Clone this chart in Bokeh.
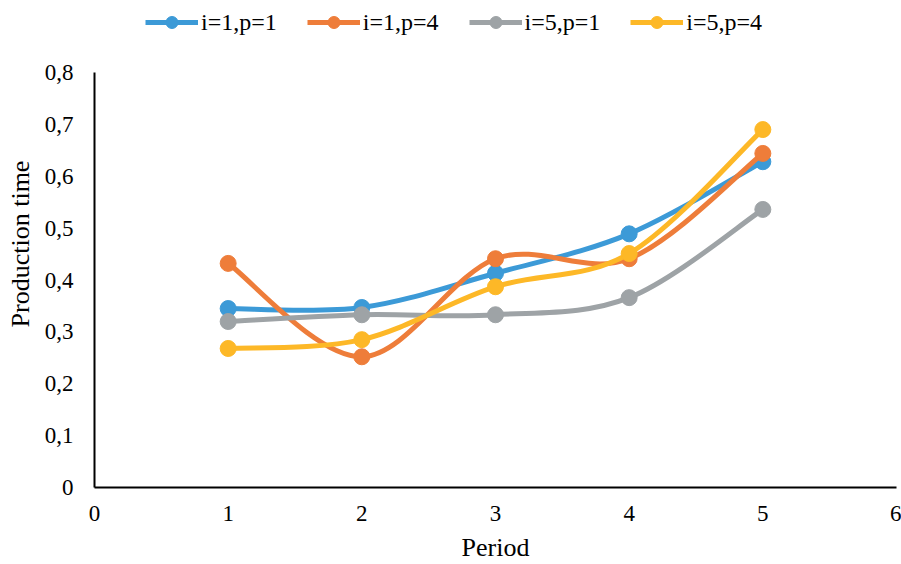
from bokeh.plotting import figure
from bokeh.models import Range1d, FixedTicker, CustomJSTickFormatter, Legend, LegendItem
from bokeh.embed import file_html
from bokeh.resources import INLINE

periods = [1, 2, 3, 4, 5]
s_i1p1 = [0.345, 0.347, 0.413, 0.489, 0.628]
s_i1p4 = [0.432, 0.252, 0.441, 0.441, 0.644]
s_i5p1 = [0.320, 0.333, 0.333, 0.366, 0.536]
s_i5p4 = [0.268, 0.285, 0.387, 0.451, 0.690]
labels = ["i=1,p=1", "i=1,p=4", "i=5,p=1", "i=5,p=4"]
colors = ["#3C9AD7", "#EE7D3A", "#9EA3A6", "#FDB827"]
x_ticks = [0, 1, 2, 3, 4, 5, 6]
y_ticks = [0, 0.1, 0.2, 0.3, 0.4, 0.5, 0.6, 0.7, 0.8]
y_axis_max = 0.8

FONT = "Liberation Serif"

# frame spans the full height above the x axis so the legend (inside the frame) is not clipped;
# the y axis line itself is bounded to 0..0.8
FRAME_H = 487
AXIS_H = 415
y_top = y_axis_max * FRAME_H / AXIS_H

p = figure(width=901, height=564, output_backend="svg", toolbar_location=None,
           x_range=Range1d(0, 6), y_range=Range1d(0, y_top),
           min_border_left=94, min_border_right=5, min_border_top=0, min_border_bottom=77)
p.outline_line_color = None
p.xgrid.visible = False
p.ygrid.visible = False


def smooth_segments(xs, ys):
    n = len(xs)
    px = [xs[0]] + list(xs) + [xs[-1]]
    py = [ys[0]] + list(ys) + [ys[-1]]
    seg = dict(x0=[], y0=[], x1=[], y1=[], cx0=[], cy0=[], cx1=[], cy1=[])
    for i in range(n - 1):
        a, b, c, d = i, i + 1, i + 2, i + 3
        seg["x0"].append(px[b]); seg["y0"].append(py[b])
        seg["x1"].append(px[c]); seg["y1"].append(py[c])
        seg["cx0"].append(px[b] + (px[c] - px[a]) / 6)
        seg["cy0"].append(py[b] + (py[c] - py[a]) / 6)
        seg["cx1"].append(px[c] - (px[d] - px[b]) / 6)
        seg["cy1"].append(py[c] - (py[d] - py[b]) / 6)
    return seg


items = []
for ys, lab, col in zip([s_i1p1, s_i1p4, s_i5p1, s_i5p4], labels, colors):
    seg = smooth_segments(periods, ys)
    r1 = p.bezier(x0=seg["x0"], y0=seg["y0"], x1=seg["x1"], y1=seg["y1"],
                  cx0=seg["cx0"], cy0=seg["cy0"], cx1=seg["cx1"], cy1=seg["cy1"],
                  line_color=col, line_width=5)
    r2 = p.scatter(periods, ys, size=16, fill_color=col, line_color=col)
    items.append(LegendItem(label=lab, renderers=[r1, r2]))

legend = Legend(items=items, orientation="horizontal", location=(51, 450),
                label_text_font=FONT, label_text_font_size="24px", label_text_color="black",
                glyph_width=53, glyph_height=30, spacing=30, label_standoff=3,
                border_line_color=None, background_fill_alpha=0, padding=0, margin=0)
p.add_layout(legend, "center")

for ax in (p.xaxis, p.yaxis):
    ax.axis_line_color = "black"
    ax.axis_line_width = 2
    ax.major_tick_line_color = None
    ax.minor_tick_line_color = None
    ax.major_tick_out = 0
    ax.major_tick_in = 0
    ax.minor_tick_out = 0
    ax.major_label_text_font = FONT
    ax.major_label_text_font_size = "23px"
    ax.major_label_text_color = "black"
    ax.axis_label_text_font = FONT
    ax.axis_label_text_font_size = "26px"
    ax.axis_label_text_font_style = "normal"
    ax.axis_label_text_color = "black"

p.yaxis.bounds = (0, y_axis_max)
p.xaxis.ticker = FixedTicker(ticks=x_ticks)
p.yaxis.ticker = FixedTicker(ticks=y_ticks)
p.yaxis.formatter = CustomJSTickFormatter(
    code="return tick == 0 ? '0' : tick.toFixed(1).replace('.', ',');")
p.xaxis.axis_label = "Period"
p.yaxis.axis_label = "Production time"
p.xaxis.major_label_standoff = 18
p.yaxis.major_label_standoff = 21
p.xaxis.axis_label_standoff = 9
p.yaxis.axis_label_standoff = 7

open("out.html", "w").write(file_html(p, INLINE))
